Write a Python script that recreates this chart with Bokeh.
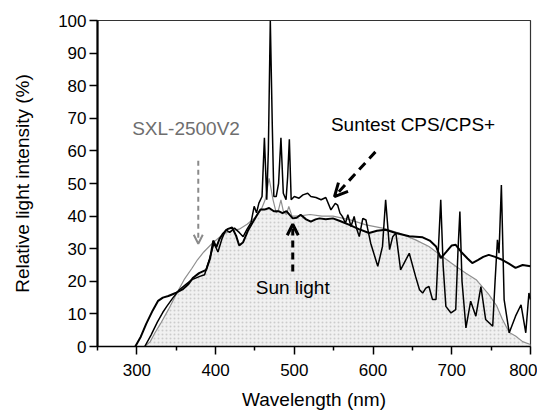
import numpy as np
from bokeh.plotting import figure
from bokeh.models import Range1d, FixedTicker, Arrow, OpenHead, Label
from bokeh.embed import file_html
from bokeh.resources import INLINE

# ---- data ----
sun_wl = [298, 305, 312, 320, 327, 333, 340, 350, 358, 365, 371, 379, 388, 393, 397, 401, 405, 409, 415, 421,
          426, 430, 435, 441, 447, 453, 457, 462, 468, 474, 480, 485, 490, 498, 503, 508, 515, 521, 527, 532,
          540, 549, 558, 570, 582, 595, 605, 616, 629, 646, 663, 672, 680, 686, 693, 700, 705, 712, 720, 726,
          733, 740, 747, 755, 764, 772, 781, 790, 800]
sun_val = [0, 3, 7, 11, 14, 15, 15.5, 16.5, 17.5, 19, 21, 22.5, 23.5, 27, 32.5, 30.5, 33, 34.5, 36, 36.5,
           34, 31, 32, 35.5, 38, 40.5, 42, 42, 42.5, 41.5, 41.5, 40.9, 41.5, 39.3, 39.5, 40.4, 39, 38.3, 39, 39.3,
           39, 39.3, 38.5, 37.3, 36, 34.8, 35.5, 35.8, 34.8, 33.8, 33.5, 32.5, 30.7, 27.1, 29, 31, 31.2, 29, 27, 25.6,
           26.5, 27.5, 28.1, 27.5, 26.6, 25.5, 24.1, 25, 24.6]

suntest_wl = [310, 318, 326, 333, 338, 346, 354, 362, 370, 380, 386, 392, 398, 403, 408, 413, 418, 424, 430, 435,
              440, 445, 449, 452, 455, 459, 462, 465, 467, 469.5, 472, 474, 477, 480, 483, 486, 489.5, 491.5, 493.7, 496,
              500, 506, 511, 517, 521, 527.5, 534, 540, 546.5, 552, 555, 558, 561, 565, 568, 572, 576, 579, 582.5, 587,
              591, 593, 597, 606, 612, 616, 621, 625, 629, 635, 646, 654, 659, 663, 667, 671, 675.5, 680, 683, 686,
              689, 692.5, 699, 705, 708, 710.3, 713, 718, 724, 730.6, 737, 743, 752, 755, 758, 760, 763, 766.5, 773, 781,
              788, 794, 798, 800]
suntest_val = [0, 3.5, 7.5, 10.5, 12.3, 15, 17.4, 19, 20.5, 21.5, 22, 26.6, 31.7, 29, 33, 35.8, 35, 36.3, 35, 33.7,
               36, 38, 43, 41, 44, 46, 64, 45, 60, 100, 68, 46, 46, 50, 64, 47, 45, 52, 63.6, 45,
               46, 45.5, 46.5, 47, 46, 45.7, 45, 45.7, 41.9, 43.9, 43.4, 40.9, 39.9, 37.8, 40.4, 36.8, 39.9, 36.3, 33.7, 39.3,
               38.8, 36.3, 31.7, 24.6, 30.7, 45, 29.7, 33.7, 34.8, 23.5, 28.6, 21.5, 17.4, 16.4, 17.9, 18.4, 14.4, 14.4, 30, 45,
               25, 12.3, 10.3, 11.3, 30, 41.4, 20, 5.7, 13.9, 9.3, 18.4, 8.3, 6.2, 20, 32.7, 28.6, 49.5, 14.4, 4.2, 9.3,
               12.8, 4.2, 16.4, 14.4]

sxl_wl = [310, 317, 323, 330, 340, 350, 360, 370, 377, 385, 394, 400, 410, 420, 430, 440, 450, 458, 463, 468,
          473, 477, 480, 483, 486, 490, 493, 497, 505, 520, 535, 549, 570, 591, 612, 633, 654, 671, 688, 705,
          718, 731, 747, 757, 764, 773, 781, 790, 800]
sxl_val = [0, 1.5, 4.2, 7, 11.3, 16, 20.5, 24, 26.6, 29, 31.2, 32.5, 34.5, 35.5, 36, 37.5, 39.5, 42, 45, 51.6,
           45, 41, 42, 45, 41.5, 40.5, 43, 40, 40, 40.5, 40, 40, 38.9, 37.3, 36.3, 34.8, 32.7, 30.7, 27.6, 24.6,
           22.5, 20.5, 16, 12.5, 8.5, 4.3, 3.2, 1.5, 0.6]

x_major = [300, 400, 500, 600, 700, 800]
x_minor = [250, 350, 450, 550, 650, 750]
y_ticks = [0, 10, 20, 30, 40, 50, 60, 70, 80, 90, 100]

FONT = "Liberation Sans"

p = figure(width=537, height=412, x_range=Range1d(250, 800), y_range=Range1d(0, 100),
           output_backend="svg", toolbar_location=None,
           min_border_left=97, min_border_top=20, min_border_right=7, min_border_bottom=65,
           background_fill_color="white", border_fill_color="white")
p.grid.visible = False
p.outline_line_color = "#333333"
p.outline_line_width = 1.2

# shaded area (under the lower of the sun and SXL spectra)
grid = np.linspace(250, 800, 1101)
top = np.minimum(np.interp(grid, sun_wl, sun_val, left=0, right=sun_val[-1]),
                 np.interp(grid, sxl_wl, sxl_val, left=0, right=sxl_val[-1]))
p.varea(x=grid, y1=np.zeros_like(grid), y2=top, fill_color="#f1f1f1",
        hatch_pattern="dot", hatch_color="#cccccc", hatch_scale=4, hatch_weight=0.7)

p.line(sxl_wl, sxl_val, line_color="#8f8f8f", line_width=1.2)
p.line(suntest_wl, suntest_val, line_color="black", line_width=1.5)
p.line(sun_wl, sun_val, line_color="black", line_width=2)

# axes
p.xaxis.ticker = FixedTicker(ticks=x_major, minor_ticks=x_minor)
p.yaxis.ticker = FixedTicker(ticks=y_ticks)
p.xaxis.axis_label = "Wavelength (nm)"
p.yaxis.axis_label = "Relative light intensity (%)"
for ax in (p.xaxis, p.yaxis):
    ax.axis_label_text_font = FONT
    ax.axis_label_text_font_style = "normal"
    ax.axis_label_text_font_size = "19px"
    ax.axis_label_text_color = "black"
    ax.major_label_text_font = FONT
    ax.major_label_text_font_size = "17px"
    ax.major_label_text_color = "black"
    ax.axis_line_color = "black"
    ax.major_tick_line_color = "black"
    ax.major_tick_in = 0
    ax.major_tick_out = 8
    ax.major_tick_line_width = 1.5
p.xaxis.axis_line_width = 1.5
p.yaxis.axis_line_width = 2.2
p.xaxis.minor_tick_in = 0
p.xaxis.minor_tick_out = 4
p.xaxis.minor_tick_line_color = "black"
p.xaxis.minor_tick_line_width = 1.5
p.yaxis.minor_tick_line_color = None
p.xaxis.major_label_standoff = 9
p.yaxis.major_label_standoff = 3
p.xaxis.axis_label_standoff = 10
p.yaxis.axis_label_standoff = 22

# arrows
p.add_layout(Arrow(end=OpenHead(size=9, line_color="#8a8a8a", line_width=2),
                   x_start=378, y_start=57, x_end=378, y_end=31.5,
                   line_color="#8a8a8a", line_width=2, line_dash="5 4"))
p.add_layout(Arrow(end=OpenHead(size=13, line_color="black", line_width=3),
                   x_start=603, y_start=59.7, x_end=551, y_end=46,
                   line_color="black", line_width=3, line_dash="9 6"))
p.add_layout(Arrow(end=OpenHead(size=11, line_color="black", line_width=3),
                   x_start=498, y_start=23, x_end=498, y_end=37.5,
                   line_color="black", line_width=3, line_dash="7 5"))

# labels
p.add_layout(Label(x=294, y=67, text="SXL-2500V2", text_font=FONT, text_font_size="19px",
                   text_color="#6e6e6e", text_baseline="middle"))
p.add_layout(Label(x=546.5, y=68, text="Suntest CPS/CPS+", text_font=FONT, text_font_size="19px",
                   text_color="black", text_baseline="middle"))
p.add_layout(Label(x=451, y=18, text="Sun light", text_font=FONT, text_font_size="19px",
                   text_color="black", text_baseline="middle"))

open("out.html", "w").write(file_html(p, INLINE))
